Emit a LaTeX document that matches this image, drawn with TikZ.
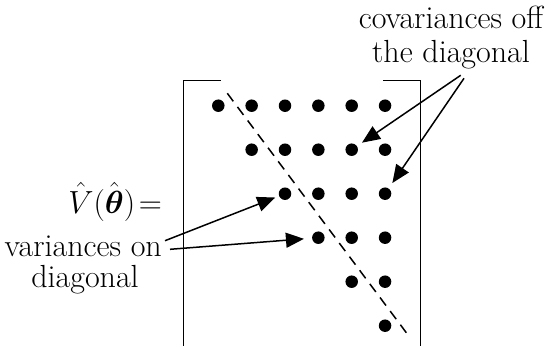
\documentclass[tikz,border=0pt]{standalone}
\usepackage{fix-cm}
\usepackage{amsmath}
\usetikzlibrary{arrows.meta}
\begin{document}
\begin{tikzpicture}[x=1pt,y=-1pt,
  dot/.style={circle,fill=black,inner sep=0pt,minimum size=12.5pt},
  lbl/.style={font=\fontsize{32}{38}\selectfont,inner sep=0pt},
  arr/.style={-{Triangle[length=18pt,width=15pt]},line width=1.5pt},
  brk/.style={line width=1.5pt},
  diag/.style={line width=1.5pt,dash pattern=on 10pt off 7pt}]
\useasboundingbox (0,0) rectangle (548,346);
% dots of the upper triangle
\foreach \r in {1,...,6}{
  \foreach \c in {\r,...,6}{
    \node[dot] (d\r\c) at ({218.3+(\c-1)*33.35},{105.7+(\r-1)*44}) {};
  }
}
% brackets
\coordinate (bl1) at (220.7,80.7);
\coordinate (bl2) at (183.5,80.7);
\coordinate (bl3) at (183.5,346);
\coordinate (br1) at (383,80.7);
\coordinate (br2) at (420.7,80.7);
\coordinate (br3) at (420.7,346);
\draw[brk] (bl1) -- (bl2) -- (bl3);
\draw[brk] (br1) -- (br2) -- (br3);
% diagonal
\coordinate (ds) at (227.3,93.3);
\coordinate (de) at (407.3,334);
\draw[diag] (ds) -- (de);
% labels
\node[lbl,anchor=base] (cov1) at (451,28) {covariances off};
\node[lbl,anchor=base] (cov2) at (451,62) {the diagonal};
\node[lbl,anchor=base east] (V) at (162,213) {$\hat{V}(\hat{\boldsymbol{\theta}})\!=$};
\node[lbl,anchor=base east] (var1) at (162,256) {variances on};
\node[lbl,anchor=base] (var2) at (85,287) {diagonal};
% arrow start points
\coordinate (cA) at (460.7,75.3);
\coordinate (cB) at (464,78.3);
\coordinate (vA) at (165,240.7);
\coordinate (vB) at (170,249.3);
\draw[arr,shorten >=6pt] (cA) -- (d25);
\draw[arr,shorten >=6.5pt] (cB) -- (d36);
\draw[arr,shorten >=4pt] (vA) -- (d33);
\draw[arr,shorten >=8pt] (vB) -- (d44);
\end{tikzpicture}
\end{document}
